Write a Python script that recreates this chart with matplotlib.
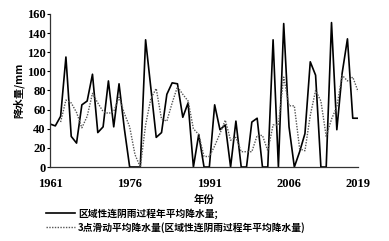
import matplotlib
matplotlib.use('Agg')
import matplotlib.pyplot as plt

# annual mean rainfall of regional continuous-rain events, 1961-2019
years = list(range(1961, 2020))
rain = [45, 43, 53, 115, 32, 25, 65, 69, 97, 36,
        42, 90, 42, 87, 40, 0, 0, 0, 133, 82,
        31, 36, 76, 88, 87, 52, 67, 0, 34, 0,
        0, 65, 39, 44, 0, 48, 0, 0, 47, 51,
        0, 0, 133, 0, 150, 42, 0, 16, 35, 110,
        96, 0, 0, 151, 39, 98, 134, 51, 51]

# 3-point moving average (starts 1963)
ma_years = list(range(1963, 2020))
rain_ma = [47, 70, 67, 57, 41, 53, 77, 67, 58, 56,
           58, 73, 56, 42, 13, 0, 44, 72, 82, 50,
           48, 67, 84, 76, 69, 40, 34, 11, 11, 22,
           35, 49, 28, 31, 16, 16, 16, 33, 33, 17,
           44, 44, 94, 64, 64, 19, 17, 54, 80, 69,
           32, 50, 63, 96, 90, 94, 79]

xticks = [1961, 1976, 1991, 2006, 2019]
yticks = [0, 20, 40, 60, 80, 100, 120, 140, 160]

cjk = ['Noto Sans CJK SC', 'DejaVu Sans']
num_font = {'family': 'Liberation Serif', 'weight': 'bold', 'size': 9}

fig = plt.figure(figsize=(3.89, 2.41), dpi=100)
ax = fig.add_axes([0.1285, 0.307, 0.792, 0.635])

l1, = ax.plot(years, rain, color='black', lw=1.2,
              label='区域性连阴雨过程年平均降水量;')
l2, = ax.plot(ma_years, rain_ma, color='#555555', lw=1.0, linestyle=(0, (1, 1)),
              label='3点滑动平均降水量(区域性连阴雨过程年平均降水量)')

ax.set_xlim(1961, 2019)
ax.set_ylim(0, 160)
ax.set_xticks(xticks)
ax.set_yticks(yticks)
ax.set_xticklabels([str(t) for t in xticks], fontdict=num_font)
ax.set_yticklabels([str(t) for t in yticks], fontdict=num_font)
ax.tick_params(axis='x', length=0, pad=8)
ax.tick_params(axis='y', length=2, width=0.8, pad=1)

for s in ['top', 'right']:
    ax.spines[s].set_visible(False)
for s in ['left', 'bottom']:
    ax.spines[s].set_linewidth(0.9)
    ax.spines[s].set_color('#333333')

ax.set_ylabel('降水量/mm', family=cjk, weight='heavy', fontsize=7.5, labelpad=2)
ax.set_xlabel('年份', family=cjk, weight='heavy', fontsize=7.5, labelpad=3)

leg = fig.legend(handles=[l1, l2], loc='upper left', bbox_to_anchor=(0.10, 0.165),
                 frameon=False, handlelength=3.0, handletextpad=0.35,
                 labelspacing=0.35, borderpad=0.2,
                 prop={'family': cjk, 'weight': 'heavy', 'size': 7})

fig.savefig('out.png', dpi=100)
